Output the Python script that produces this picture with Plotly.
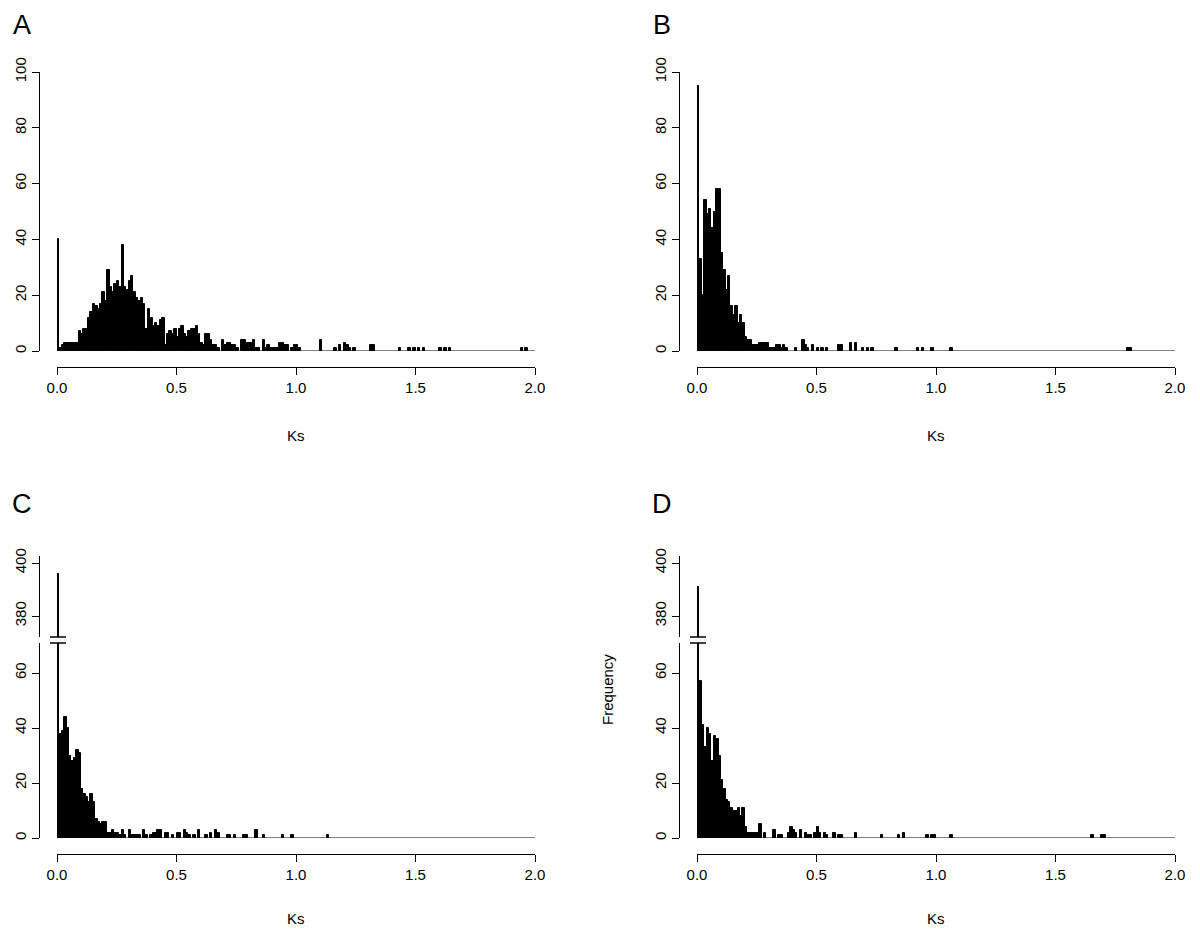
import plotly.graph_objects as go

W, H = 1200, 931
PAGE = 8  # the page's body margin shifts the figure by this many pixels
FW, FH = W - PAGE, H - PAGE
BIN = 0.01  # histogram bin width in Ks

# Frequency per 0.01 Ks bin. *_head: dense counts from Ks = 0.00;
# *_tail_bin / *_tail_n: sparse bins further out (bin index = Ks / 0.01)
a_head = [40, 1, 2, 3, 3, 3, 3, 3, 3, 7, 6, 8, 8, 12, 14, 17, 16, 15, 17, 21,
          18, 29, 23, 21, 24, 25, 23, 38, 23, 22, 25, 27, 21, 19, 18, 19, 17, 8, 15, 12,
          9, 10, 9, 11, 12, 2, 6, 7, 6, 8, 5, 8, 9, 6, 5, 7, 8, 8, 9, 6]
a_tail_bin = [60, 61, 62, 63, 64, 65, 66, 67, 69, 70, 71, 72, 73, 74, 75, 77, 78, 79, 80,
              81, 82, 83, 84, 86, 87, 88, 89, 90, 91, 92, 93, 94, 95, 96, 98, 99, 100,
              101, 110, 116, 118, 120, 121, 122, 124, 131, 132, 143, 147, 149, 151,
              153, 160, 162, 164, 194, 196]
a_tail_n = [3, 2, 6, 6, 4, 2, 2, 1, 4, 2, 3, 3, 2, 2, 1, 4, 4, 3, 3,
            3, 4, 1, 1, 4, 1, 2, 1, 1, 1, 1, 3, 3, 2, 2, 1, 2, 2,
            1, 4, 1, 2, 3, 2, 1, 1, 2, 2, 1, 1, 1, 1,
            1, 1, 1, 1, 1, 1]

b_head = [95, 33, 20, 54, 49, 51, 44, 50, 58, 58, 35, 29, 22, 27, 16, 13, 16, 10, 13, 10,
          5, 4, 4, 2, 2, 2, 3, 3, 3, 3, 1, 1, 1, 2, 2, 1, 2, 1, 0, 0,
          0, 1, 0, 0, 4, 2, 1, 0, 2]
b_tail_bin = [50, 52, 54, 59, 60, 64, 66, 69, 71, 73, 83, 92, 94, 98, 106, 180, 181]
b_tail_n = [1, 1, 1, 2, 2, 3, 3, 1, 1, 1, 1, 1, 1, 1, 1, 1, 1]

c_head = [396, 38, 39, 44, 40, 30, 28, 29, 32, 31, 18, 16, 15, 13, 16, 13, 7, 6, 5, 6,
          6, 2, 2, 3, 2, 2, 1, 3, 1, 0, 3, 1, 1, 1, 1, 0, 3, 1, 0, 1,
          2, 2, 3, 3, 0, 2, 2, 0, 1, 0, 2, 2, 0, 3, 2, 1]
c_tail_bin = [57, 59, 62, 64, 66, 67, 71, 72, 74, 78, 79, 83, 86, 94, 98, 113]
c_tail_n = [1, 3, 1, 2, 3, 2, 1, 1, 1, 1, 1, 3, 1, 1, 1, 1]

d_head = [391, 57, 41, 33, 40, 38, 28, 37, 36, 30, 21, 18, 14, 13, 11, 10, 10, 11, 8, 11,
          4, 2, 2, 2, 2, 2, 5, 0, 2, 0, 0, 0, 3, 0, 1, 1, 0, 0, 2, 4,
          3, 2, 0, 3, 0, 2, 1, 1, 0, 2, 4, 2, 0, 2, 1]
d_tail_bin = [57, 59, 60, 66, 77, 84, 86, 96, 98, 99, 106, 165, 169, 170]
d_tail_n = [2, 1, 1, 2, 1, 1, 2, 1, 1, 1, 1, 1, 1, 1]

x_ticks = [0.0, 0.5, 1.0, 1.5, 2.0]
ab_y_ticks = [0, 20, 40, 60, 80, 100]
cd_low_ticks = [0, 20, 40, 60]
cd_high_ticks = [380, 400]

FONT = "Liberation Sans, Arial, Helvetica, sans-serif"


def bars(head, tail_bin, tail_n):
    xs, ys = [], []
    for k, n in enumerate(head):
        if n:
            xs.append(k * BIN + BIN / 2)
            ys.append(n)
    for k, n in zip(tail_bin, tail_n):
        xs.append(k * BIN + BIN / 2)
        ys.append(n)
    return xs, ys


# screen pixel -> paper fraction
def px_x(p):
    return (p - PAGE) / FW


def px_y(p):
    return 1 - (p - PAGE) / FH


# pixel layout of the four panels
left_dom = [px_x(57), px_x(535)]
right_dom = [px_x(697), px_x(1175)]
top_dom = [px_y(351), px_y(72)]
low_dom = [px_y(838), px_y(643)]
high_dom = [px_y(637), px_y(556)]
low_range = [0, (838 - 643) / 2.75]
high_range = [380 - (637 - 616) / 2.65, 380 + (616 - 556) / 2.65]

fig = go.Figure()

panels = [
    ("x", "y", a_head, a_tail_bin, a_tail_n),
    ("x2", "y2", b_head, b_tail_bin, b_tail_n),
    ("x3", "y3", c_head, c_tail_bin, c_tail_n),
    ("x4", "y4", d_head, d_tail_bin, d_tail_n),
]
bar_style = dict(marker_color="black", marker_line=dict(color="black", width=1),
                 width=BIN, showlegend=False, hoverinfo="x+y")
for xa, ya, head, tb, tn in panels:
    xs, ys = bars(head, tb, tn)
    fig.add_trace(go.Bar(x=xs, y=ys, xaxis=xa, yaxis=ya, **bar_style))

# upper part of the broken axes (C and D): same bars on a second y axis
for xa, ya, head, tb, tn in [("x3", "y5", c_head, c_tail_bin, c_tail_n),
                             ("x4", "y6", d_head, d_tail_bin, d_tail_n)]:
    xs, ys = bars(head, tb, tn)
    fig.add_trace(go.Bar(x=xs, y=ys, xaxis=xa, yaxis=ya, **bar_style))

axis_common = dict(showline=True, linecolor="black", linewidth=1, ticks="outside",
                   ticklen=7, tickwidth=1, tickcolor="black", showgrid=False,
                   zeroline=False, automargin=False,
                   tickfont=dict(family=FONT, size=15, color="black"))

xa_top = px_y(367)
xa_bot = px_y(854)
ya_left = px_x(39)
ya_right = px_x(679)

xcfg = dict(range=[0, 2], tickvals=x_ticks, tickformat=".1f", anchor="free", **axis_common)
fig.update_layout(
    xaxis=dict(domain=left_dom, position=xa_top, **xcfg),
    xaxis2=dict(domain=right_dom, position=xa_top, **xcfg),
    xaxis3=dict(domain=left_dom, position=xa_bot, **xcfg),
    xaxis4=dict(domain=right_dom, position=xa_bot, **xcfg),
)

ycfg = dict(anchor="free", tickangle=-90, **axis_common)
fig.update_layout(
    yaxis=dict(domain=top_dom, range=[0, 100], tickvals=ab_y_ticks, position=ya_left, **ycfg),
    yaxis2=dict(domain=top_dom, range=[0, 100], tickvals=ab_y_ticks, position=ya_right, **ycfg),
    yaxis3=dict(domain=low_dom, range=low_range, tickvals=cd_low_ticks, position=ya_left, **ycfg),
    yaxis4=dict(domain=low_dom, range=low_range, tickvals=cd_low_ticks, position=ya_right, **ycfg),
    yaxis5=dict(domain=high_dom, range=high_range, tickvals=cd_high_ticks, position=ya_left, **ycfg),
    yaxis6=dict(domain=high_dom, range=high_range, tickvals=cd_high_ticks, position=ya_right, **ycfg),
)

shapes = []
# zero line under each histogram (borders of empty bins)
for xa, ya in [("x", "y"), ("x2", "y2"), ("x3", "y3"), ("x4", "y4")]:
    shapes.append(dict(type="line", xref=xa, yref=ya, x0=0, x1=2, y0=0, y1=0,
                       line=dict(color="black", width=1)))
# break marks across the first bar of C and D
for x0 in (left_dom[0], right_dom[0]):
    for yb in (low_dom[1], high_dom[0]):
        shapes.append(dict(type="line", xref="paper", yref="paper",
                           x0=x0 - 7 / FW, x1=x0 + 9 / FW, y0=yb, y1=yb,
                           line=dict(color="black", width=1.5)))

annotations = []
# panel letters: A/B hang from the top edge so they are not clipped
for label, x, y, anchor in [("A", 22, 9, "top"), ("B", 662, 9, "top"),
                            ("C", 22, 504, "middle"), ("D", 662, 504, "middle")]:
    annotations.append(dict(text=label, x=px_x(x), y=px_y(y), xref="paper", yref="paper",
                            showarrow=False, xanchor="center", yanchor=anchor,
                            borderpad=0,
                            font=dict(family=FONT, size=27, color="black")))
for x, y in [(296, 436), (936, 436), (296, 918), (936, 918)]:
    annotations.append(dict(text="Ks", x=px_x(x), y=px_y(y), xref="paper", yref="paper",
                            showarrow=False, xanchor="center", yanchor="middle",
                            font=dict(family=FONT, size=15, color="black")))
annotations.append(dict(text="Frequency", x=px_x(607), y=px_y(690), xref="paper",
                        yref="paper", showarrow=False, textangle=-90,
                        xanchor="center", yanchor="middle",
                        font=dict(family=FONT, size=15, color="black")))

fig.update_layout(
    width=FW, height=FH,
    margin=dict(l=0, r=0, t=0, b=0, autoexpand=False),
    paper_bgcolor="white", plot_bgcolor="white",
    barmode="overlay", bargap=0,
    shapes=shapes, annotations=annotations,
    font=dict(family=FONT, color="black"),
)

fig.write_html("out.html")
